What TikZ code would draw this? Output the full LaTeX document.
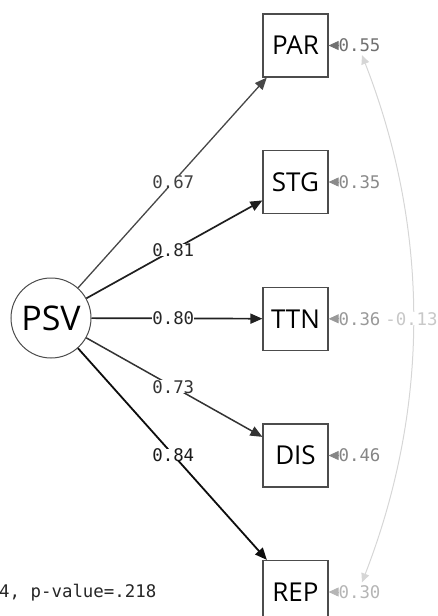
\documentclass[tikz,border=0pt]{standalone}
\usepackage{fontspec}
\setmainfont{Open Sans}
\setmonofont{DejaVu Sans Mono}
\usetikzlibrary{arrows.meta,calc}

\definecolor{resA}{HTML}{707070}
\definecolor{resB}{HTML}{8A8A8A}
\definecolor{resC}{HTML}{999999}
\definecolor{resD}{HTML}{858585}
\definecolor{resE}{HTML}{B5B5B5}
\definecolor{covcol}{HTML}{D6D6D6}
\definecolor{covtxt}{HTML}{C8C8C8}

\begin{document}
\begin{tikzpicture}[x=1pt,y=-1pt,
  latent/.style={circle, draw=black!70, line width=1pt, minimum size=80pt,
    inner sep=0pt, font=\fontsize{34}{34}\selectfont},
  manifest/.style={rectangle, draw=black!70, line width=1.2pt,
    minimum width=65pt, minimum height=63pt, inner sep=0pt,
    font=\fontsize{26}{26}\selectfont},
  monotext/.style={font=\ttfamily\fontsize{17.4}{17.4}\selectfont},
  loadlab/.style={monotext, fill=white, inner sep=0pt, text depth=0pt},
  loading/.style={-{Triangle[length=12pt,width=10pt]}},
  residlab/.style={monotext, inner sep=0pt, text depth=0pt},
  residarrow/.style={-{Triangle[length=10pt,width=9pt]}, line width=0.8pt},
  covarc/.style={{Triangle[length=9pt,width=8pt]}-{Triangle[length=9pt,width=8pt]},
    draw=covcol, line width=1pt},
  covlab/.style={monotext, text=covtxt, fill=white, inner sep=0pt, text depth=0pt}
]
\useasboundingbox (0,0) rectangle (438,616);
\clip (0,0) rectangle (438,616);

% latent factor and indicators
\node[latent] (psv) at (51,318) {PSV};
\node[manifest] (par) at (295.5,45.5) {PAR};
\node[manifest] (stg) at (295.5,182) {STG};
\node[manifest] (ttn) at (295.5,318.8) {TTN};
\node[manifest] (dis) at (295.5,455.5) {DIS};
\node[manifest] (rep) at (295.5,592) {REP};

% factor loadings
\draw[loading, draw=black!72, line width=1.3pt] (psv) -- (par);
\draw[loading, draw=black!88, line width=1.7pt] (psv) -- (stg);
\draw[loading, draw=black!87, line width=1.7pt] (psv) -- (ttn);
\draw[loading, draw=black!80, line width=1.5pt] (psv) -- (dis);
\draw[loading, draw=black!95, line width=1.8pt] (psv) -- (rep);

\node[loadlab, text=black!75] (lpar) at ($(psv)!0.5!(par)$) {0.67};
\node[loadlab, text=black!85] (lstg) at ($(psv)!0.5!(stg)$) {0.81};
\node[loadlab, text=black!85] (lttn) at ($(psv)!0.5!(ttn)$) {0.80};
\node[loadlab, text=black!80] (ldis) at ($(psv)!0.5!(dis)$) {0.73};
\node[loadlab, text=black!90] (lrep) at ($(psv)!0.5!(rep)$) {0.84};

% residual variances
\node[residlab, text=resA] (e1) at (359.5,45.5) {0.55};
\node[residlab, text=resB] (e2) at (359.5,182) {0.35};
\node[residlab, text=resC] (e3) at (359.5,318.8) {0.36};
\node[residlab, text=resD] (e4) at (359.5,455.5) {0.46};
\node[residlab, text=resE] (e5) at (359.5,592) {0.30};

\draw[residarrow, draw=resA] (e1) -- (par);
\draw[residarrow, draw=resB] (e2) -- (stg);
\draw[residarrow, draw=resC] (e3) -- (ttn);
\draw[residarrow, draw=resD] (e4) -- (dis);
\draw[residarrow, draw=resE] (e5) -- (rep);

% residual covariance between PAR and REP
\draw[covarc] ([xshift=2.5pt,yshift=-3pt]e1.south) .. controls (430,230) and (430,407) ..
  ([xshift=2.5pt,yshift=3pt]e5.north) node[pos=0.5, covlab, xshift=-1.5pt] (cov) {-0.13};

% fit statistics
\node[monotext, anchor=west, inner sep=0pt, text=black!85] (fit) at (-1,593) {4, p-value=.218};
\end{tikzpicture}
\end{document}
